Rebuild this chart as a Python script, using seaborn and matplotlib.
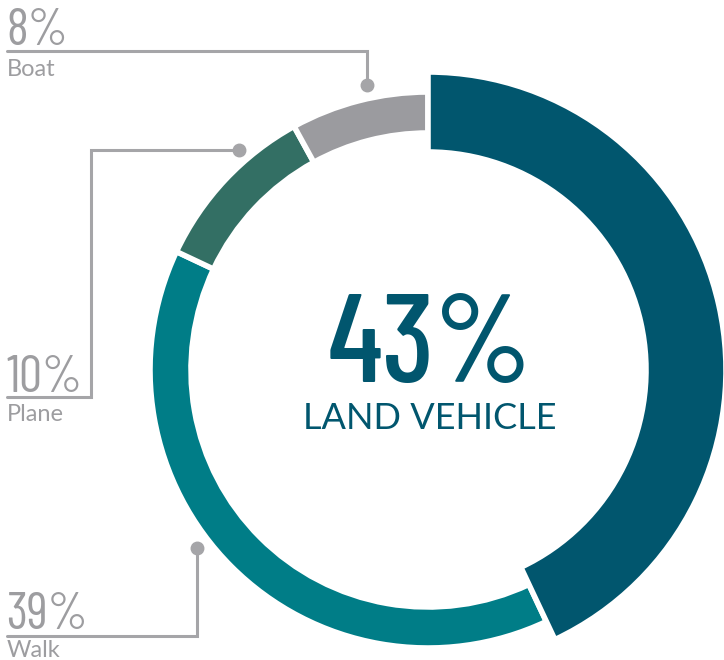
import matplotlib
matplotlib.use("Agg")
import matplotlib.pyplot as plt
import seaborn as sns

# --- data ---
modes = ["LAND VEHICLE", "Walk", "Plane", "Boat"]
shares = [43, 39, 10, 8]
colors = ["#01566E", "#007D87", "#336F64", "#9B9B9F"]

sns.set_theme(style="white")
plt.rcParams["font.family"] = ["Barlow Condensed", "DejaVu Sans"]

W, H = 724, 660
fig = plt.figure(figsize=(W / 100, H / 100), dpi=100)
ax = fig.add_axes([0, 0, 1, 1])

cx, cy = 428, H - 370   # donut centre, y measured from bottom

# thin ring for the smaller shares
ring, _ = ax.pie(shares, colors=colors, startangle=90, counterclock=False,
                 radius=278, center=(cx, cy), frame=True,
                 wedgeprops=dict(width=41, edgecolor="white", linewidth=4))
ring[0].set_visible(False)

# thick ring for the highlighted share
big, _ = ax.pie(shares, colors=colors, startangle=90, counterclock=False,
                radius=298, center=(cx, cy), frame=True,
                wedgeprops=dict(width=80, edgecolor="white", linewidth=4))
for w in big[1:]:
    w.set_visible(False)

ax.set_xlim(0, W)
ax.set_ylim(0, H)
ax.set_aspect("equal")
ax.axis("off")

# centre text
ax.text(cx + 2, H - 382, f"{shares[0]}%", color=colors[0], fontsize=90,
        fontweight="medium", ha="center", va="baseline")
ax.text(cx + 2, H - 429, modes[0], color=colors[0], fontsize=26,
        family=["Lato", "DejaVu Sans"], ha="center", va="baseline")

# callouts: (dot, elbow path) in pixel coords from top
grey_txt = "#9D9DA0"
grey_line = "#A5A5A8"
callouts = {
    "Boat": dict(path=[(367, 85), (367, 51), (7, 51)], num_y=45, lab_y=76),
    "Plane": dict(path=[(239, 150), (91, 150), (91, 397), (7, 397)], num_y=392, lab_y=421),
    "Walk": dict(path=[(197, 548), (197, 636), (7, 636)], num_y=629, lab_y=657),
}
for name, val in zip(modes[1:], shares[1:]):
    c = callouts[name]
    xs = [p[0] for p in c["path"]]
    ys = [H - p[1] for p in c["path"]]
    ax.plot(xs, ys, color=grey_line, lw=2.2, solid_joinstyle="miter")
    ax.plot(xs[0], ys[0], "o", color=grey_line, ms=9)
    ax.text(6, H - c["num_y"], f"{val}%", color=grey_txt, fontsize=37,
            ha="left", va="baseline")
    ax.text(7, H - c["lab_y"], name, color=grey_txt, fontsize=17,
            family=["Lato", "DejaVu Sans"], ha="left", va="baseline")

fig.savefig("out.png", dpi=100)
